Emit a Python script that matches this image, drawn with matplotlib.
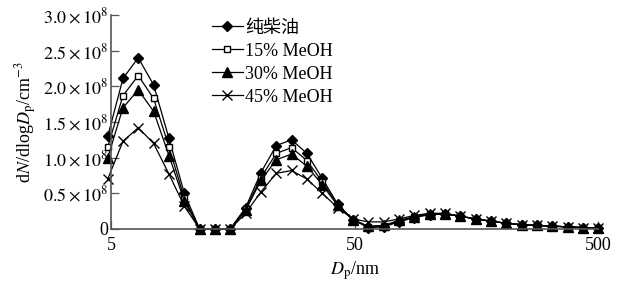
import matplotlib
matplotlib.use("Agg")
import matplotlib.pyplot as plt

plt.rcParams['font.family'] = ['Liberation Serif', 'Noto Sans CJK SC']
plt.rcParams['mathtext.fontset'] = 'stix'

# particle diameter channels (nm)
dp = [4.85, 5.60, 6.47, 7.48, 8.65, 10.0, 11.56, 13.36, 15.44, 17.85, 20.63,
      23.85, 27.56, 31.87, 36.84, 42.58, 49.22, 56.90, 65.77, 76.03, 87.88,
      101.6, 117.4, 135.7, 156.9, 181.4, 209.6, 242.3, 280.1, 323.8, 374.3,
      432.6, 500.0]

# dN/dlogDp, units of 1e8 cm^-3
diesel = [1.30, 2.11, 2.40, 2.02, 1.27, 0.50, 0, 0, 0, 0.30, 0.79, 1.17, 1.25,
          1.06, 0.71, 0.35, 0.13, 0.02, 0.03, 0.10, 0.16, 0.20, 0.21, 0.18,
          0.14, 0.11, 0.08, 0.06, 0.05, 0.04, 0.03, 0.02, 0.01]
meoh15 = [1.15, 1.87, 2.15, 1.83, 1.15, 0.43, 0, 0, 0, 0.28, 0.72, 1.06, 1.14,
          0.96, 0.66, 0.34, 0.13, 0.03, 0.04, 0.11, 0.17, 0.21, 0.21, 0.18,
          0.14, 0.11, 0.08, 0.06, 0.05, 0.04, 0.03, 0.02, 0.01]
meoh30 = [1.00, 1.70, 1.95, 1.65, 1.03, 0.39, 0, 0, 0, 0.26, 0.68, 0.97, 1.05,
          0.88, 0.62, 0.33, 0.13, 0.04, 0.05, 0.12, 0.17, 0.21, 0.21, 0.18,
          0.14, 0.11, 0.08, 0.06, 0.05, 0.04, 0.03, 0.02, 0.01]
meoh45 = [0.70, 1.23, 1.42, 1.20, 0.77, 0.32, 0, 0, 0, 0.22, 0.52, 0.78, 0.82,
          0.70, 0.50, 0.30, 0.14, 0.10, 0.10, 0.14, 0.19, 0.22, 0.22, 0.18,
          0.14, 0.11, 0.08, 0.06, 0.05, 0.04, 0.03, 0.02, 0.01]

labels = ['纯柴油', '15% MeOH', '30% MeOH', '45% MeOH']
yticks = [0, 0.5, 1.0, 1.5, 2.0, 2.5, 3.0]
yticklabels = ['0'] + [f'${v:.1f}\\times10^8$' for v in yticks[1:]]
xticks = [5, 50, 500]

fs = 13

fig = plt.figure(figsize=(6.27, 2.97), dpi=100)
ax = fig.add_axes([0.177, 0.229, 0.777, 0.7205])

styles = [
    dict(marker='D', markersize=5.5, mfc='black', mec='black'),
    dict(marker='s', markersize=5, mfc='white', mec='black', mew=1.0),
    dict(marker='^', markersize=6.5, mfc='black', mec='black'),
    dict(marker='x', markersize=6.5, mec='black', mew=1.0),
]
for ys, lab, st in zip([diesel, meoh15, meoh30, meoh45], labels, styles):
    ax.plot(dp, [v * 1e8 for v in ys], color='black', lw=0.9, label=lab,
            clip_on=False, **st)

ax.set_xscale('log')
ax.set_xlim(5, 500)
ax.set_ylim(0, 3.0e8)
ax.set_xticks(xticks)
ax.set_xticklabels([str(v) for v in xticks])
ax.xaxis.set_minor_locator(matplotlib.ticker.NullLocator())
ax.set_yticks([v * 1e8 for v in yticks])
ax.set_yticklabels(yticklabels)
ax.tick_params(direction='in', length=6, width=0.9, labelsize=fs,
               color='#555555', pad=2)
ax.tick_params(axis='x', pad=6)
for s in ['top', 'right']:
    ax.spines[s].set_visible(False)
for s in ['left', 'bottom']:
    ax.spines[s].set_color('#555555')
    ax.spines[s].set_linewidth(1.2)

ax.set_xlabel('$D_{\\rm p}$/nm', fontsize=fs, labelpad=4)
ax.set_ylabel('d$N$/dlog$D_{\\rm p}$/cm$^{-3}$', fontsize=fs, labelpad=3)

ax.legend(loc='upper left', bbox_to_anchor=(0.2, 0.995), frameon=False,
          fontsize=fs, handlelength=1.7, handletextpad=0.15, labelspacing=0.33,
          borderaxespad=0, borderpad=0.2)

fig.savefig('out.png', dpi=100)
